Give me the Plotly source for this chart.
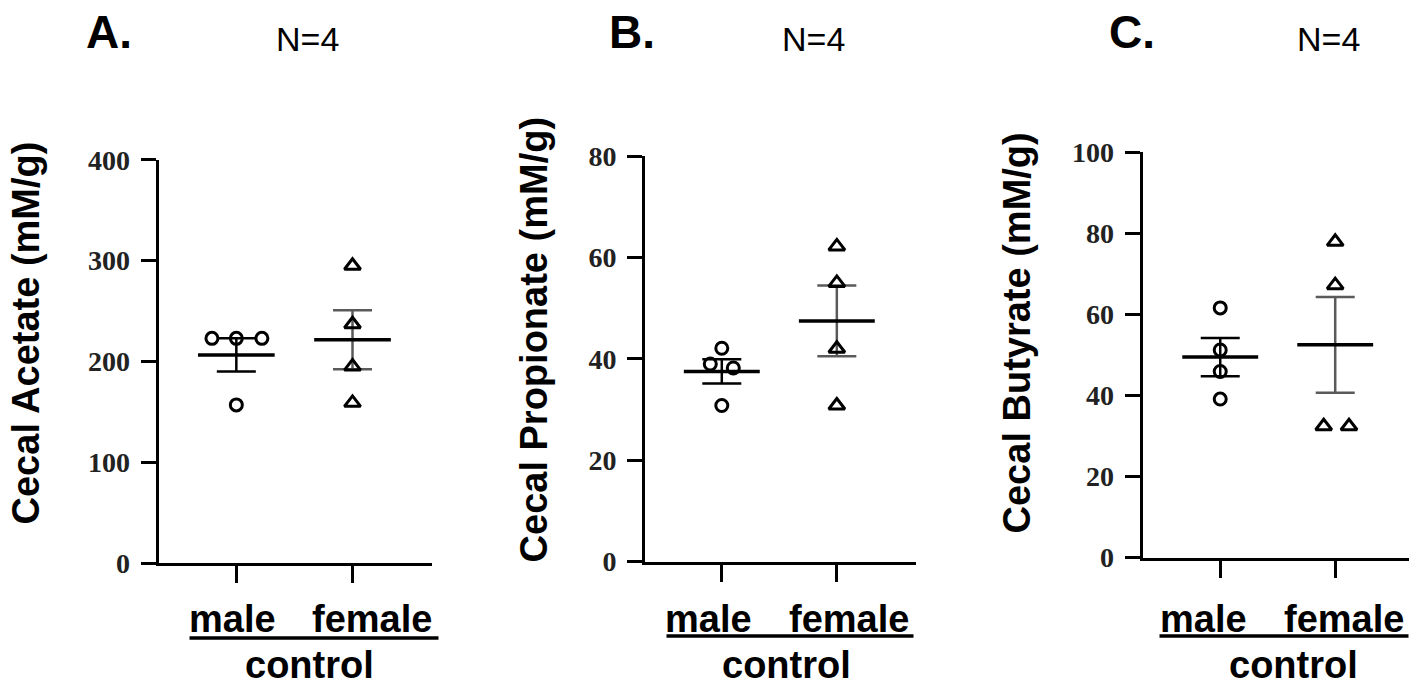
import numpy as np
import plotly.graph_objects as go

# ---- data (mM/g), N=4 per group ----
groups = ['male', 'female']
acetate_male = [223, 223, 223, 157]
acetate_female = [295, 237, 195, 159]
propionate_male = [42.1, 39.0, 38.2, 30.8]
propionate_female = [62.2, 55.0, 42.0, 30.8]
butyrate_male = [61.6, 51.2, 45.9, 39.1]
butyrate_female = [77.9, 67.2, 32.4, 32.4]

# horizontal scatter of the dots (category units)
acetate_male_jit = [-0.21, 0, 0.22, 0]
acetate_female_jit = [0, 0, 0, 0]
propionate_male_jit = [0, -0.10, 0.10, 0]
propionate_female_jit = [0, 0, 0, 0]
butyrate_male_jit = [0, 0, 0, 0]
butyrate_female_jit = [0, 0, -0.10, 0.12]

y_titles = ['Cecal Acetate (mM/g)', 'Cecal Propionate (mM/g)', 'Cecal Butyrate (mM/g)']
panel_letters = ['A.', 'B.', 'C.']
n_label = 'N=4'
y_max = [400, 80, 100]
y_step = [100, 20, 20]

W, H = 1417, 686
# pixel -> paper, with a small correction measured on the first render
def px(x):
    return (x - 4.5) / W
def py(y):
    return 1 - ((y - 22) / 0.958) / H

# panel geometry in pixels: x0, x1 of axis, y of 0 and y of max
panels = [
    dict(x0=155, x1=428, y0=564, y1=159.3, xr=[0.33, 2.68],
         letter=(105, 31), n=(304, 38), ytitle=(22, 333),
         male=229, female=368, line=(186, 435, 639), control=306),
    dict(x0=641.7, x1=912, y0=562.3, y1=155.7, xr=[0.334, 2.684],
         letter=(628, 31), n=(810, 38), ytitle=(530, 340),
         male=705, female=845, line=(663, 910, 637), control=783),
    dict(x0=1139, x1=1413, y0=558.3, y1=151.7, xr=[0.324, 2.707],
         letter=(1128, 31), n=(1325, 38), ytitle=(1013, 333),
         male=1200, female=1340, line=(1156, 1405, 637), control=1290),
]

series = [
    (acetate_male, acetate_male_jit, acetate_female, acetate_female_jit),
    (propionate_male, propionate_male_jit, propionate_female, propionate_female_jit),
    (butyrate_male, butyrate_male_jit, butyrate_female, butyrate_female_jit),
]

fig = go.Figure()
annotations = []
shapes = []

for i, (p, s) in enumerate(zip(panels, series)):
    xa = 'x' if i == 0 else f'x{i+1}'
    ya = 'y' if i == 0 else f'y{i+1}'
    m_vals, m_jit, f_vals, f_jit = s
    for gi, (vals, jit, sym, ecol) in enumerate([
            (m_vals, m_jit, 'circle-open', 'black'),
            (f_vals, f_jit, 'triangle-up-open', '#5a5a5a')]):
        xc = gi + 1
        v = np.array(vals, dtype=float)
        mean = v.mean()
        sem = v.std(ddof=1) / np.sqrt(len(v))
        # SEM bar
        fig.add_trace(go.Scatter(
            x=[xc], y=[mean], mode='markers', marker=dict(size=1, color='rgba(0,0,0,0)'),
            error_y=dict(type='data', array=[sem], visible=True, color=ecol,
                         thickness=2.5, width=19.5),
            xaxis=xa, yaxis=ya, showlegend=False, hoverinfo='skip'))
        # mean line
        fig.add_trace(go.Scatter(
            x=[xc - 0.33, xc + 0.33], y=[mean, mean], mode='lines',
            line=dict(color='black', width=3.5),
            xaxis=xa, yaxis=ya, showlegend=False, hoverinfo='skip'))
        # individual animals
        fig.add_trace(go.Scatter(
            x=[xc + j for j in jit], y=vals, mode='markers',
            marker=dict(symbol=sym, size=12 if gi == 0 else 14, color='black',
                        line=dict(width=3, color='black')),
            xaxis=xa, yaxis=ya, showlegend=False, name=groups[gi]))

    xkey = 'xaxis' if i == 0 else f'xaxis{i+1}'
    ykey = 'yaxis' if i == 0 else f'yaxis{i+1}'
    fig.update_layout(**{
        xkey: dict(domain=[px(p['x0']), px(p['x1'])], range=p['xr'], anchor=ya,
                   showline=True, linecolor='black', linewidth=3,
                   tickvals=[1, 2], showticklabels=False, ticks='outside',
                   ticklen=17, tickwidth=2.5, tickcolor='black',
                   showgrid=False, zeroline=False, fixedrange=True),
        ykey: dict(domain=[py(p['y0']), py(p['y1'])], range=[0, y_max[i]], anchor=xa,
                   showline=True, linecolor='black', linewidth=3,
                   tickvals=list(range(0, y_max[i] + 1, y_step[i])),
                   ticks='outside', ticklen=15, tickwidth=2.5, tickcolor='black',
                   ticklabelstandoff=5,
                   tickfont=dict(family='Liberation Serif', size=28, color='#222',
                                 weight='bold'),
                   showgrid=False, zeroline=False, fixedrange=True),
    })

    sans = 'Liberation Sans, Arial, sans-serif'
    annotations += [
        dict(text=panel_letters[i], x=px(p['letter'][0]), y=py(p['letter'][1]),
             font=dict(family=sans, size=46, color='black', weight='bold')),
        dict(text=n_label, x=px(p['n'][0]), y=py(p['n'][1]),
             font=dict(family=sans, size=34, color='black')),
        dict(text=y_titles[i], x=px(p['ytitle'][0]), y=py(p['ytitle'][1]), textangle=-90,
             font=dict(family=sans, size=38, color='black', weight='bold')),
        dict(text=groups[0], x=px(p['male']), y=py(620),
             font=dict(family=sans, size=38, color='black', weight='bold')),
        dict(text=groups[1], x=px(p['female']), y=py(620),
             font=dict(family=sans, size=38, color='black', weight='bold')),
        dict(text='control', x=px(p['control']), y=py(666),
             font=dict(family=sans, size=38, color='black', weight='bold')),
    ]
    lx0, lx1, ly = p['line']
    shapes.append(dict(type='line', xref='paper', yref='paper',
                       x0=px(lx0), x1=px(lx1), y0=py(ly), y1=py(ly),
                       line=dict(color='black', width=3.5)))

for a in annotations:
    a.update(xref='paper', yref='paper', showarrow=False,
             xanchor='center', yanchor='middle')

fig.update_layout(width=W, height=H, margin=dict(l=0, r=0, t=0, b=0),
                  plot_bgcolor='white', paper_bgcolor='white',
                  annotations=annotations, shapes=shapes, showlegend=False)

fig.write_html('out.html')
